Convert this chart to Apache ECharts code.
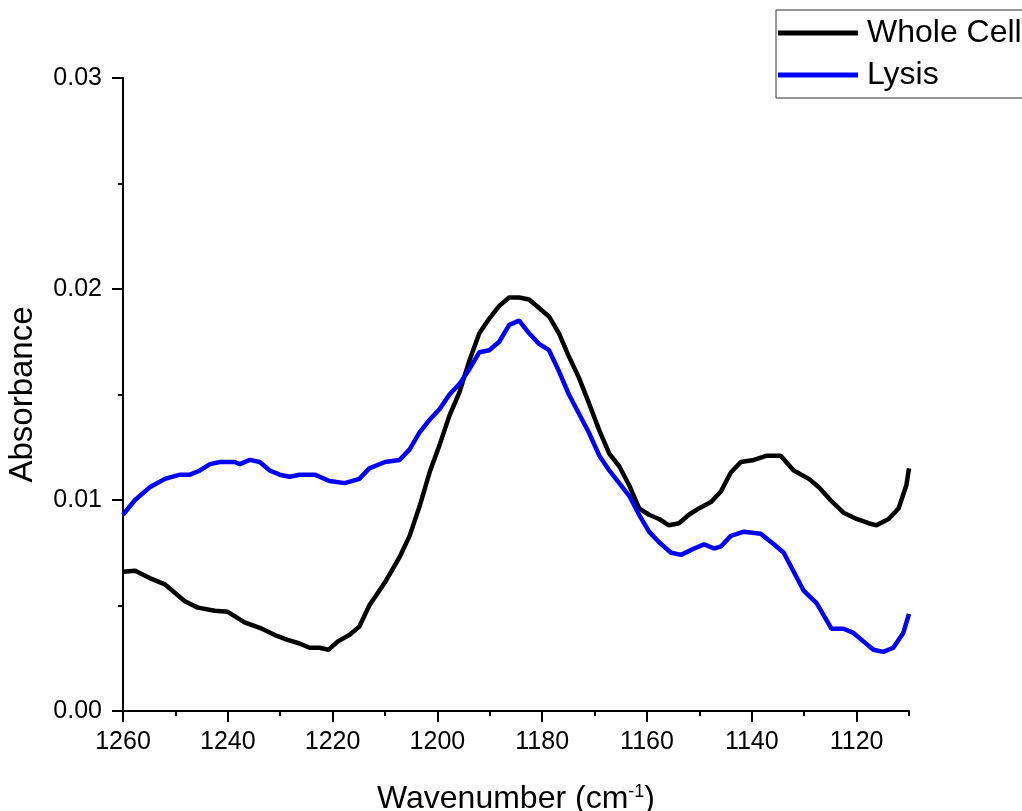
<!DOCTYPE html>
<html>
<head>
<meta charset="utf-8">
<script src="https://cdn.jsdelivr.net/npm/echarts@6/dist/echarts.min.js"></script>
<style>html,body{margin:0;padding:0;background:#fff}#c{width:1022px;height:811px}</style>
</head>
<body>
<div id="c"></div>
<script>
const wholeCellX = [1260,1257.7,1254.9,1252,1248.2,1245.7,1242.5,1240,1236.8,1233.5,1231,1228.6,1226.3,1224.4,1222.5,1220.8,1219,1216.8,1214.9,1213,1210,1207.2,1205.3,1203.4,1201.5,1199.6,1197.7,1195.8,1193.9,1192,1190.1,1188.2,1186.3,1184.4,1182.5,1180.6,1178.7,1176.8,1174.9,1173,1171.1,1169.1,1167.2,1165.3,1163.4,1161.5,1159.6,1157.7,1155.8,1153.9,1152,1150.1,1147.8,1145.9,1144,1142.1,1139.6,1137.1,1134.5,1132,1129.1,1127.2,1125,1122.5,1120,1117.7,1116.2,1113.9,1112,1110.5,1110];
const wholeCellY = [0.0066,0.00665,0.0063,0.0060,0.0052,0.0049,0.00475,0.0047,0.0042,0.0039,0.0036,0.00337,0.0032,0.0030,0.0030,0.0029,0.0033,0.0036,0.0040,0.0050,0.0061,0.0073,0.0083,0.0097,0.0113,0.0126,0.0140,0.0151,0.0166,0.0179,0.0186,0.0192,0.0196,0.0196,0.0195,0.0191,0.0187,0.0179,0.0168,0.0158,0.0146,0.0133,0.0122,0.0116,0.0107,0.0096,0.0093,0.0091,0.0088,0.0089,0.0093,0.0096,0.0099,0.0104,0.0113,0.0118,0.0119,0.0121,0.0121,0.0114,0.0110,0.0106,0.0100,0.0094,0.0091,0.0089,0.0088,0.0091,0.0096,0.0107,0.0115];
const lysisX = [1260,1257.7,1254.9,1252,1249.1,1247.2,1245.3,1243.4,1241.5,1238.7,1237.7,1235.8,1233.9,1232,1230.1,1228.2,1226.3,1223.4,1220.6,1217.7,1214.9,1213,1210,1207.2,1205.3,1203.4,1201.5,1199.6,1197.7,1195.8,1193.9,1192,1190.1,1188.2,1186.3,1184.4,1182.5,1180.6,1178.7,1176.8,1174.9,1173,1171.1,1169.1,1167.2,1165.3,1163.4,1161.5,1159.6,1157.7,1155.4,1153.5,1151,1149.1,1147.2,1145.9,1144,1141.5,1138.3,1135.8,1133.9,1132,1130.1,1127.6,1124.8,1122.5,1120.6,1118.7,1116.8,1114.9,1113,1111.1,1110];
const lysisY = [0.0093,0.0100,0.0106,0.0110,0.0112,0.0112,0.0114,0.0117,0.0118,0.0118,0.0117,0.0119,0.0118,0.0114,0.0112,0.0111,0.0112,0.0112,0.0109,0.0108,0.0110,0.0115,0.0118,0.0119,0.0124,0.0132,0.0138,0.0143,0.0150,0.0155,0.0162,0.0170,0.0171,0.0175,0.0183,0.0185,0.0179,0.0174,0.0171,0.0161,0.0150,0.0141,0.0132,0.0121,0.0114,0.0108,0.0102,0.0093,0.0085,0.0080,0.0075,0.0074,0.0077,0.0079,0.0077,0.0078,0.0083,0.0085,0.0084,0.0079,0.0075,0.0066,0.0057,0.0051,0.0039,0.0039,0.0037,0.0033,0.0029,0.0028,0.0030,0.0037,0.0046];
const xMajorTicks = [1260,1240,1220,1200,1180,1160,1140,1120];
const xMinorTicks = [1250,1230,1210,1190,1170,1150,1130,1110];
const seriesNames = ['Whole Cell','Lysis'];

const zip = (xs, ys) => xs.map((x, i) => [x, ys[i]]);
const font = '"Liberation Sans", Arial, sans-serif';

const chart = echarts.init(document.getElementById('c'));
chart.setOption({
  animation: false,
  backgroundColor: '#fff',
  grid: {left: 123, right: 113, top: 78, bottom: 100, containLabel: false, outerBoundsMode: 'none'},
  legend: {
    orient: 'vertical', left: 776, top: 10,
    data: seriesNames,
    itemWidth: 80, itemHeight: 14, itemGap: 6,
    padding: [5, 40, 5, 2],
    borderColor: '#333', borderWidth: 1,
    textStyle: {fontFamily: font, fontSize: 32, color: '#000', lineHeight: 36, padding: [0, 0, 0, 4]},
    icon: 'path://M0,0 L80,0 L80,5 L0,5 Z'
  },
  xAxis: [{
    type: 'value', min: 1110, max: 1260, inverse: true,
    name: '{a|Wavenumber (cm}{s|-1}{a|)}', nameLocation: 'middle', nameGap: 72,
    nameTextStyle: {rich: {
      a: {fontFamily: font, fontSize: 32, color: '#000'},
      s: {fontFamily: font, fontSize: 18, color: '#000', verticalAlign: 'top', padding: [0, 0, 14, 0]}
    }},
    splitLine: {show: false},
    axisLine: {lineStyle: {color: '#000', width: 2}},
    axisTick: {show: true, inside: false, length: 11, lineStyle: {width: 2, color: '#000'}, customValues: xMajorTicks},
    axisLabel: {fontFamily: font, fontSize: 25, color: '#000', margin: 19, customValues: xMajorTicks, formatter: v => String(v)}
  }, {
    type: 'value', min: 1110, max: 1260, inverse: true, position: 'bottom',
    splitLine: {show: false},
    axisLine: {show: false},
    axisTick: {show: true, length: 5, lineStyle: {width: 2, color: '#000'}, customValues: xMinorTicks},
    axisLabel: {show: false}
  }],
  yAxis: {
    type: 'value', min: 0, max: 0.03, interval: 0.01,
    name: 'Absorbance', nameLocation: 'middle', nameGap: 84,
    nameTextStyle: {fontFamily: font, fontSize: 33, color: '#000'},
    splitLine: {show: false},
    axisLine: {show: true, lineStyle: {color: '#000', width: 2}},
    axisTick: {show: true, length: 11, lineStyle: {width: 2, color: '#000'}},
    minorTick: {show: true, splitNumber: 2, length: 5, lineStyle: {width: 2, color: '#000'}},
    axisLabel: {fontFamily: font, fontSize: 25, color: '#000', margin: 21, formatter: v => v.toFixed(2)}
  },
  series: [{
    name: seriesNames[0], type: 'line', data: zip(wholeCellX, wholeCellY),
    showSymbol: false, symbol: 'none',
    lineStyle: {color: '#000', width: 4.5}, itemStyle: {color: '#000'}
  }, {
    name: seriesNames[1], type: 'line', data: zip(lysisX, lysisY),
    showSymbol: false, symbol: 'none',
    lineStyle: {color: '#0000ff', width: 4.5}, itemStyle: {color: '#0000ff'}
  }]
});
</script>
</body>
</html>
